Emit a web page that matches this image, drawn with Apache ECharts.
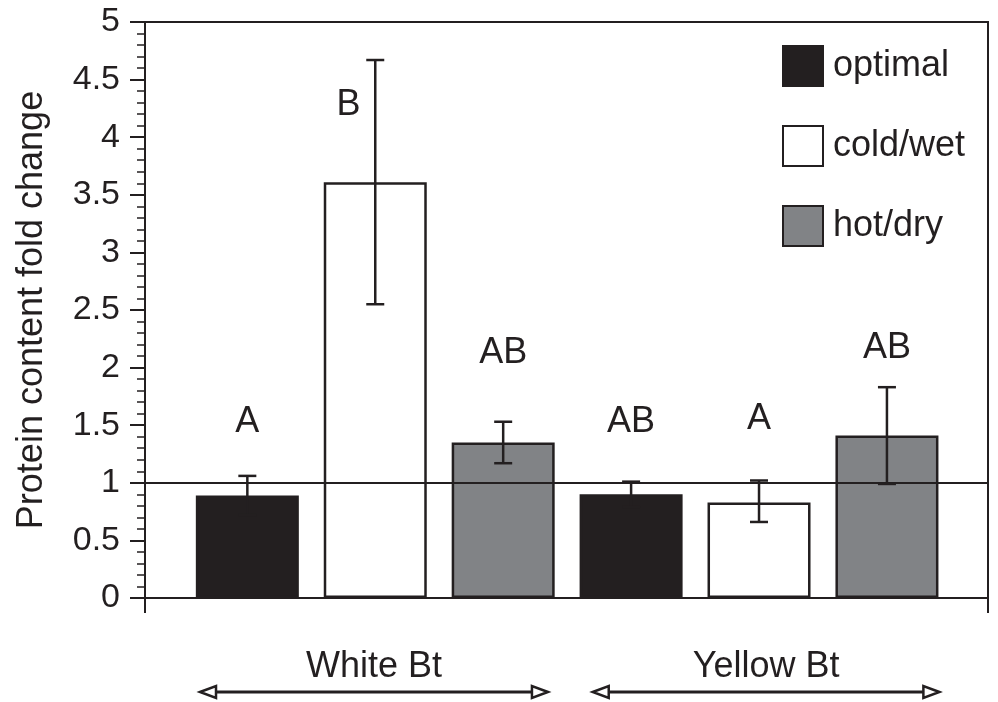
<!DOCTYPE html>
<html>
<head>
<meta charset="utf-8">
<script src="https://cdn.jsdelivr.net/npm/echarts@6/dist/echarts.min.js"></script>
<style>
html, body { margin: 0; padding: 0; background: #fff; }
#main { width: 998px; height: 702px; }
</style>
</head>
<body>
<div id="main"></div>
<script>
// data
var conditions = ['optimal', 'cold/wet', 'hot/dry'];
var groups = ['White Bt', 'Yellow Bt'];
// bar order along x: White optimal, cold/wet, hot/dry, Yellow optimal, cold/wet, hot/dry
var foldChange = [0.89, 3.61, 1.35, 0.90, 0.83, 1.41];
var errLow = [0.72, 2.55, 1.17, 0.79, 0.66, 0.99];
var errHigh = [1.06, 4.67, 1.53, 1.01, 1.02, 1.83];
var letters = ['A', 'B', 'AB', 'AB', 'A', 'AB'];
var letterX = [0, 0.79, 2, 3, 4, 5];
var letterY = [1.53, 4.28, 2.13, 1.53, 1.55, 2.17];
var groupSpan = [[-0.37, 2.35], [2.70, 5.41]];

var ink = '#231f20';
var fills = ['#231f20', '#ffffff', '#818386'];
var font = '"Liberation Sans", Arial, Helvetica, sans-serif';

var chart = echarts.init(document.getElementById('main'));

var barSeries = conditions.map(function (c, k) {
    var s = {
        name: c,
        type: 'bar',
        barWidth: 103,
        barGap: '-100%',
        data: [[k, foldChange[k]], [k + 3, foldChange[k + 3]]],
        itemStyle: { color: fills[k], borderColor: ink, borderWidth: 2.5 },
        emphasis: { disabled: true }
    };
    if (k === 0) {
        s.markLine = {
            silent: true,
            symbol: 'none',
            label: { show: false },
            lineStyle: { color: ink, width: 2, type: 'solid', opacity: 1 },
            data: [{ yAxis: 1 }]
        };
    }
    return s;
});

var option = {
    animation: false,
    backgroundColor: '#fff',
    textStyle: { fontFamily: font, color: ink },
    grid: {
        left: 145, right: 10, top: 22, bottom: 104,
        show: true, borderColor: ink, borderWidth: 2
    },
    legend: {
        data: conditions,
        orient: 'vertical',
        left: 782, top: 45,
        padding: 0,
        itemWidth: 40, itemHeight: 40, itemGap: 38,
        icon: 'rect',
        textStyle: { fontSize: 36, color: ink, fontFamily: font, padding: [0, 0, 0, 5] },
        selectedMode: false
    },
    xAxis: {
        type: 'value',
        min: -0.8, max: 5.79,
        axisLine: { show: true, onZero: false, lineStyle: { color: ink, width: 2 } },
        axisTick: { show: true, customValues: [-0.8, 5.79], length: 15, lineStyle: { color: ink, width: 2 } },
        axisLabel: { show: false },
        splitLine: { show: false }
    },
    yAxis: {
        type: 'value',
        min: 0, max: 5, interval: 0.5,
        name: 'Protein content fold change',
        nameLocation: 'middle',
        nameGap: 95,
        nameTextStyle: { fontSize: 36, color: ink, fontFamily: font },
        axisLine: { show: true, onZero: false, lineStyle: { color: ink, width: 2 } },
        axisTick: { show: true, length: 15, lineStyle: { color: ink, width: 2 } },
        minorTick: { show: true, splitNumber: 5, length: 8, lineStyle: { color: ink, width: 1.5 } },
        axisLabel: { fontSize: 34, color: ink, margin: 25, fontFamily: font },
        splitLine: { show: false }
    },
    series: barSeries.concat([
        {
            name: 'error',
            type: 'custom',
            z: 6,
            silent: true,
            encode: { x: 0, y: [1, 2] },
            data: foldChange.map(function (v, i) { return [i, errLow[i], errHigh[i]]; }),
            renderItem: function (params, api) {
                var x = api.value(0);
                var lo = api.coord([x, api.value(1)]);
                var hi = api.coord([x, api.value(2)]);
                var half = 9;
                var st = { stroke: ink, lineWidth: 2.5 };
                return {
                    type: 'group',
                    children: [
                        { type: 'line', shape: { x1: hi[0], y1: hi[1], x2: lo[0], y2: lo[1] }, style: st },
                        { type: 'line', shape: { x1: hi[0] - half, y1: hi[1], x2: hi[0] + half, y2: hi[1] }, style: st },
                        { type: 'line', shape: { x1: lo[0] - half, y1: lo[1], x2: lo[0] + half, y2: lo[1] }, style: st }
                    ]
                };
            }
        },
        {
            name: 'letters',
            type: 'custom',
            z: 7,
            silent: true,
            data: letters.map(function (t, i) { return [letterX[i], letterY[i]]; }),
            renderItem: function (params, api) {
                var p = api.coord([api.value(0), api.value(1)]);
                return {
                    type: 'text',
                    style: {
                        text: letters[params.dataIndex],
                        x: p[0], y: p[1],
                        align: 'center', verticalAlign: 'middle',
                        fontSize: 36, fontFamily: font, fill: ink
                    }
                };
            }
        },
        {
            name: 'groups',
            type: 'custom',
            clip: false,
            silent: true,
            data: groupSpan.map(function (s) { return [s[0], s[1]]; }),
            renderItem: function (params, api) {
                var a = api.coord([api.value(0), 0]);
                var b = api.coord([api.value(1), 0]);
                var y = a[1] + 94;
                var head = 16, hw = 6;
                var st = { stroke: ink, lineWidth: 2.5, fill: '#fff' };
                return {
                    type: 'group',
                    children: [
                        { type: 'line', shape: { x1: a[0] + head, y1: y, x2: b[0] - head, y2: y }, style: { stroke: ink, lineWidth: 3 } },
                        { type: 'polygon', shape: { points: [[a[0], y], [a[0] + head, y - hw], [a[0] + head, y + hw]] }, style: st },
                        { type: 'polygon', shape: { points: [[b[0], y], [b[0] - head, y - hw], [b[0] - head, y + hw]] }, style: st },
                        {
                            type: 'text',
                            style: {
                                text: groups[params.dataIndex],
                                x: (a[0] + b[0]) / 2, y: a[1] + 69,
                                align: 'center', verticalAlign: 'middle',
                                fontSize: 36, fontFamily: font, fill: ink
                            }
                        }
                    ]
                };
            }
        }
    ])
};

chart.setOption(option);
</script>
</body>
</html>
